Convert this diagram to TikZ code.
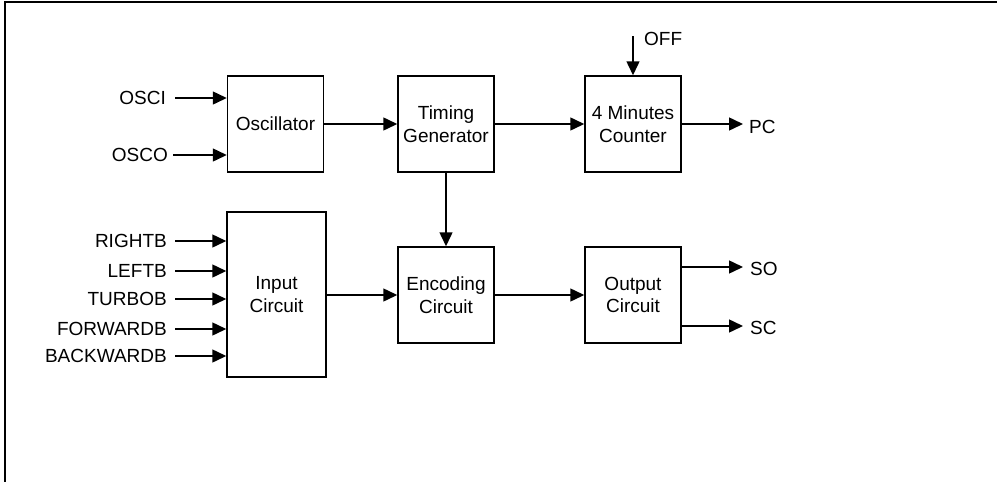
\documentclass[tikz,border=0pt]{standalone}
\usepackage{fontspec}
\setmainfont{Liberation Sans}
\usetikzlibrary{arrows.meta}
\begin{document}
\begin{tikzpicture}[x=1pt,y=-1pt,
  blk/.style={draw,line width=1.5pt,minimum width=96pt,minimum height=96pt,align=center,inner sep=0pt,font=\fontsize{19}{22.5}\selectfont},
  lbl/.style={inner sep=0pt,font=\fontsize{19}{22.5}\selectfont},
  arr/.style={line width=1.5pt,-{Triangle[length=14pt,width=13pt]}}]
\useasboundingbox (0,0) rectangle (997,482);
\draw[line width=2pt] (4.5,482) -- (4.5,1.5) -- (997,1.5);
% blocks
\node[blk] (osc) at (275.5,124) {Oscillator};
\node[blk] (tim) at (446,124) {Timing\\Generator};
\node[blk] (cnt) at (633,124) {4 Minutes\\Counter};
\node[blk,minimum width=99pt,minimum height=165pt] (inp) at (276.5,294.5) {Input\\Circuit};
\node[blk] (enc) at (446,295) {Encoding\\Circuit};
\node[blk] (out) at (633,295) {Output\\Circuit};
% labels
\node[lbl,anchor=east] (osci) at (166,98) {OSCI};
\node[lbl,anchor=east] (osco) at (168,155) {OSCO};
\node[lbl,anchor=west] (off) at (644,39) {OFF};
\node[lbl,anchor=west] (pc) at (749,127) {PC};
\node[lbl,anchor=east] (rb) at (167,241) {RIGHTB};
\node[lbl,anchor=east] (lb) at (167,271) {LEFTB};
\node[lbl,anchor=east] (tb) at (167,299) {TURBOB};
\node[lbl,anchor=east] (fb) at (167,329) {FORWARDB};
\node[lbl,anchor=east] (bb) at (167,356) {BACKWARDB};
\node[lbl,anchor=west] (so) at (750,269) {SO};
\node[lbl,anchor=west] (sc) at (750,328) {SC};
% free ends
\coordinate (offs) at (633,36);
% connectors
\draw[arr] (175,98) -- (osc.west |- 0,98);
\draw[arr] (173,155) -- (osc.west |- 0,155);
\draw[arr] (osc.east) -- (tim.west);
\draw[arr] (tim.east) -- (cnt.west);
\draw[arr] (offs) -- (cnt.north);
\draw[arr] (cnt.east |- 0,124) -- (743,124);
\draw[arr] (tim.south) -- (enc.north);
\draw[arr] (175,241) -- (inp.west |- 0,241);
\draw[arr] (175,271) -- (inp.west |- 0,271);
\draw[arr] (175,299) -- (inp.west |- 0,299);
\draw[arr] (175,329) -- (inp.west |- 0,329);
\draw[arr] (175,356) -- (inp.west |- 0,356);
\draw[arr] (inp.east |- enc.west) -- (enc.west);
\draw[arr] (enc.east) -- (out.west);
\draw[arr] (out.east |- 0,267) -- (743,267);
\draw[arr] (out.east |- 0,326) -- (743,326);
\end{tikzpicture}
\end{document}
